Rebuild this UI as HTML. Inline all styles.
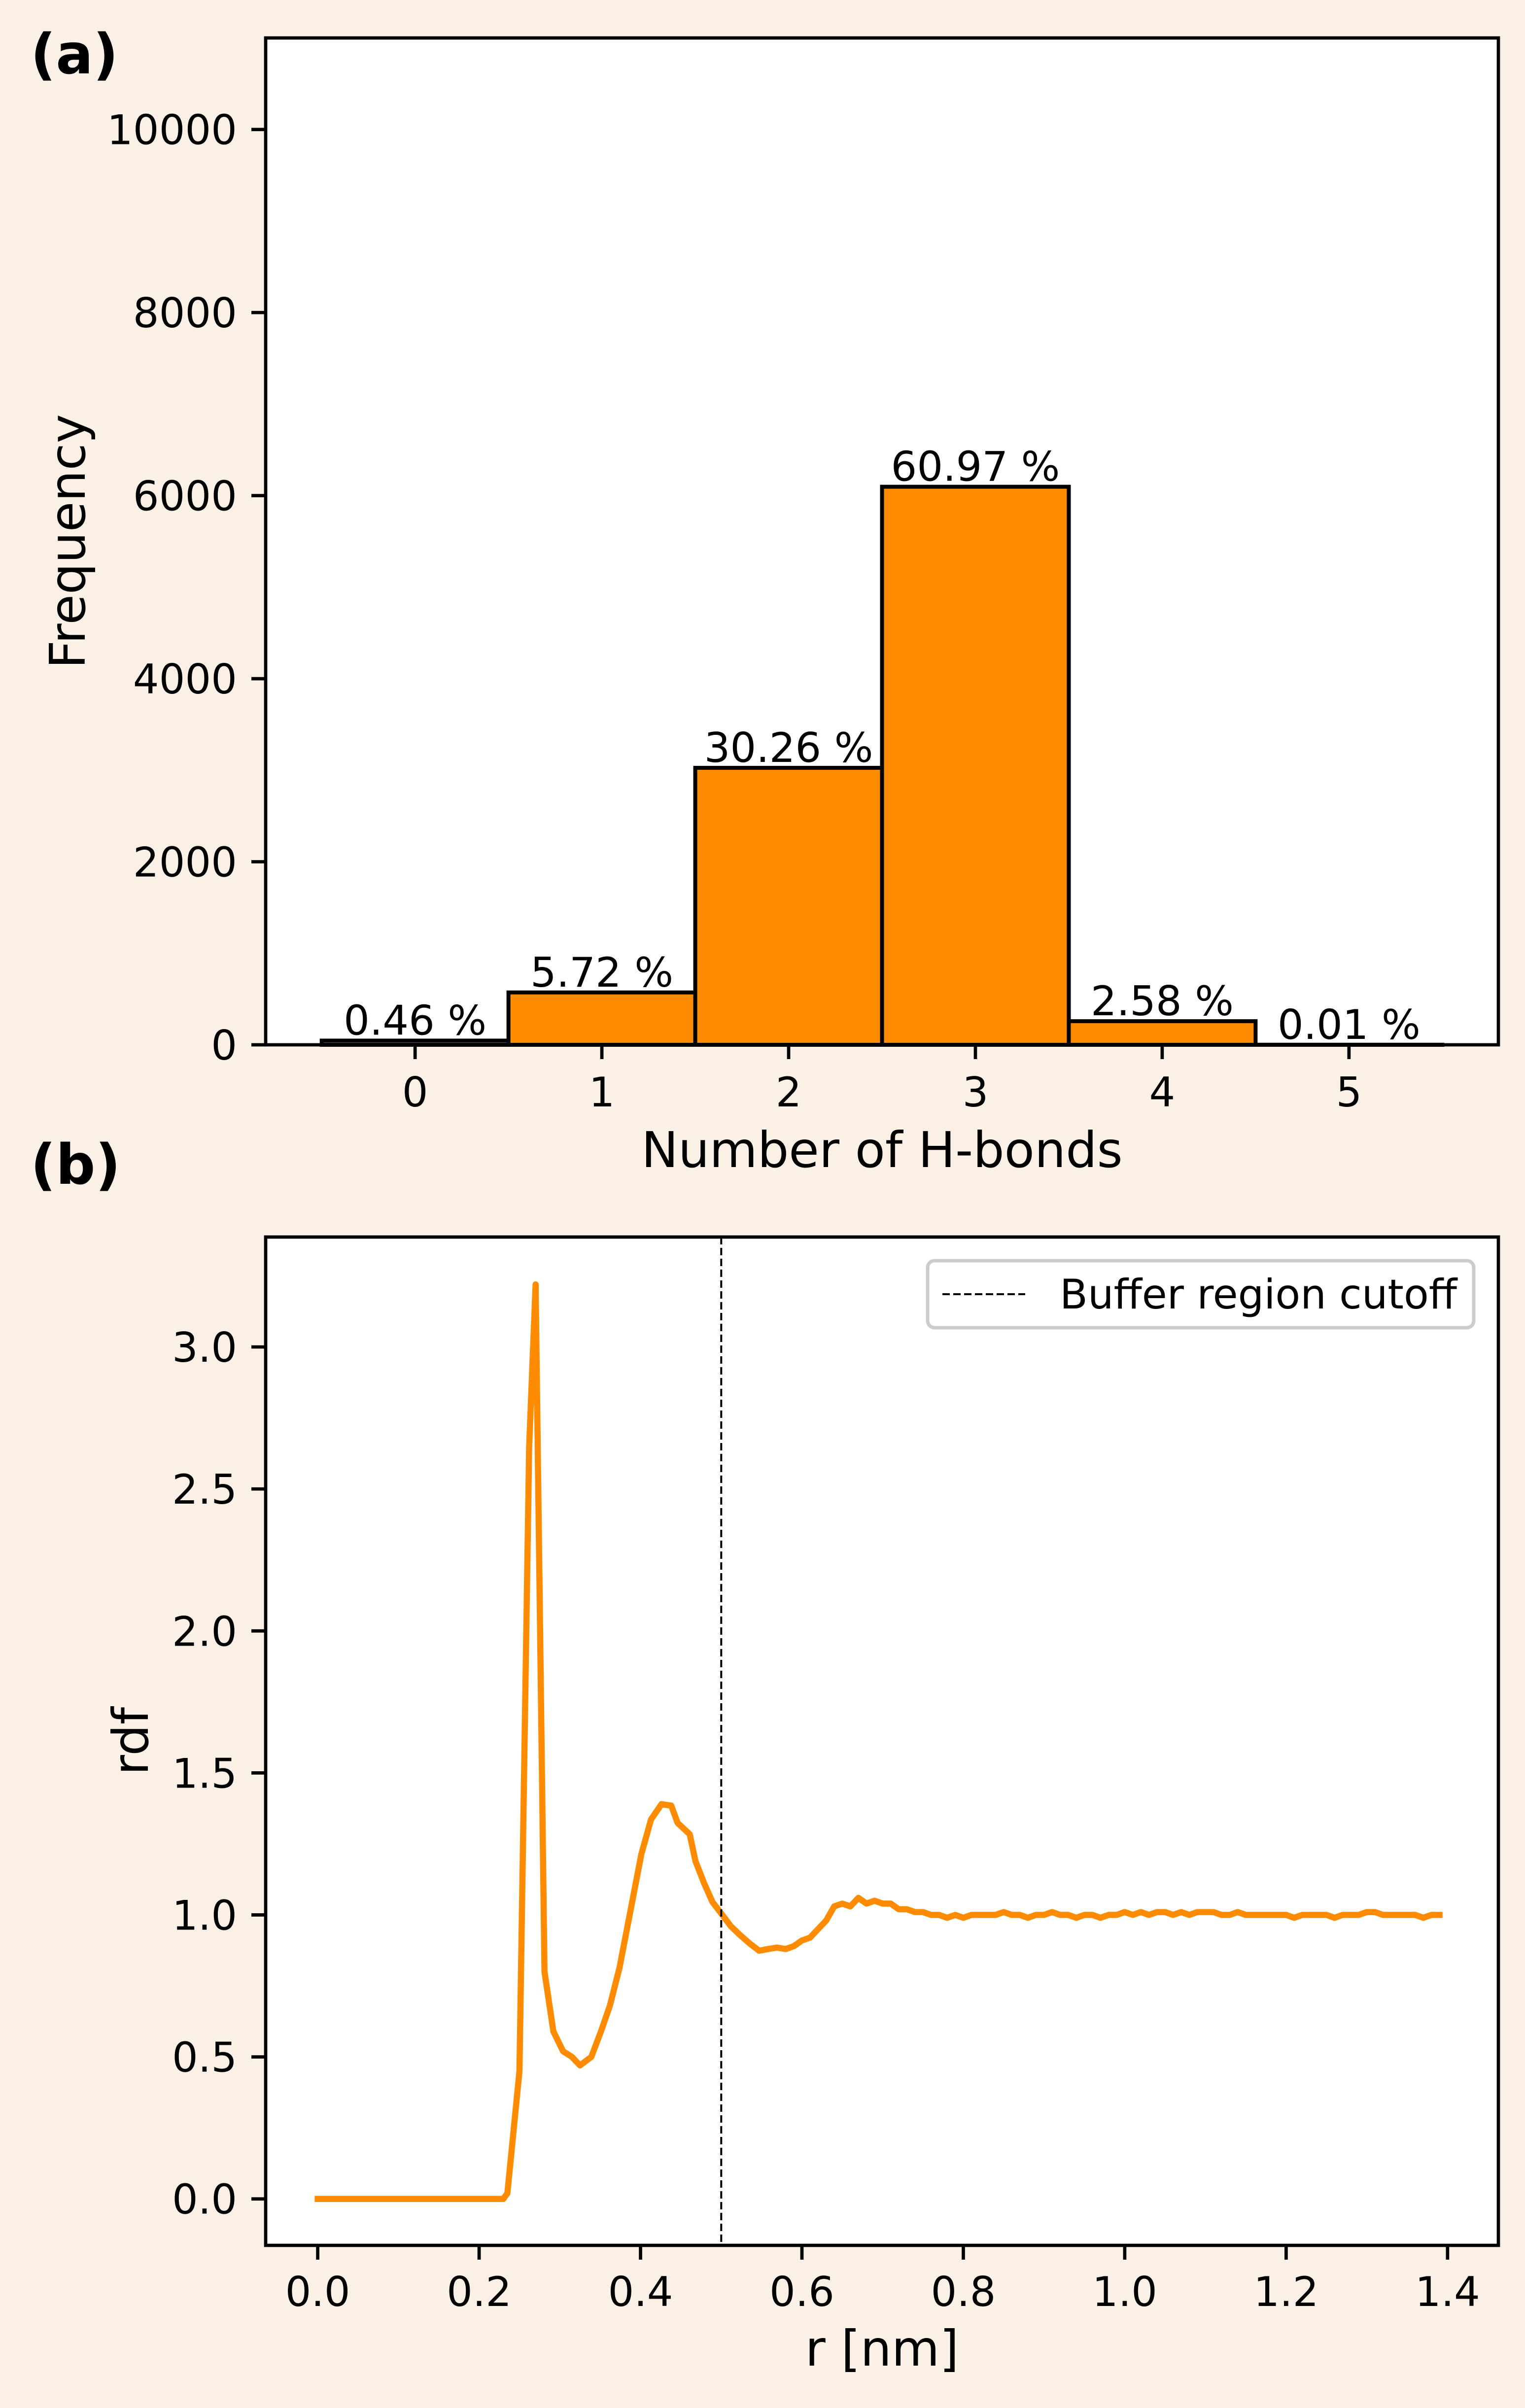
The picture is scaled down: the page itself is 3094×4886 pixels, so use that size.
<!DOCTYPE html>
<html><head><meta charset="utf-8"><style>
html,body{margin:0;padding:0;background:#faf0e6;}
svg{display:block;font-family:"DejaVu Sans","Liberation Sans",sans-serif;}
</style></head><body>
<svg id="fig" width="3094" height="4886" viewBox="0 0 3094 4886" xmlns="http://www.w3.org/2000/svg">
<rect width="3094" height="4886" fill="#faf0e6"/>
<text x="62" y="149" font-size="112" font-weight="bold">(a)</text>
<text x="62" y="2402" font-size="112" font-weight="bold">(b)</text>
<g id="pa"></g>
<g id="pb"></g>
</svg>
<script>
// Panel (a) data
const hbCategories = [0, 1, 2, 3, 4, 5];
const hbCounts = [46, 572, 3026, 6097, 258, 1];
const hbLabels = ["0.46 %", "5.72 %", "30.26 %", "60.97 %", "2.58 %", "0.01 %"];
const hbYTicks = [0, 2000, 4000, 6000, 8000, 10000];
// Panel (b) data
const rdfR = [0,0.23,0.235,0.25,0.262,0.270,0.281,0.292,0.304,0.315,0.325,0.339,0.351,0.362,0.374,0.389,0.401,0.413,0.426,0.438,0.446,0.461,0.468,0.479,0.489,0.500,0.512,0.523,0.535,0.547,0.558,0.569,
0.58,0.59,0.60,0.61,0.62,0.63,0.64,0.65,0.66,0.67,0.68,0.69,0.70,0.71,0.72,0.73,0.74,0.75,0.76,0.77,0.78,0.79,0.80,0.81,0.82,0.83,0.84,0.85,0.86,0.87,0.88,0.89,0.90,0.91,0.92,0.93,0.94,0.95,0.96,0.97,0.98,0.99,1.00,1.01,1.02,1.03,1.04,1.05,1.06,1.07,1.08,1.09,1.10,1.11,1.12,1.13,1.14,1.15,1.16,1.17,1.18,1.19,1.20,1.21,1.22,1.23,1.24,1.25,1.26,1.27,1.28,1.29,1.30,1.31,1.32,1.33,1.34,1.35,1.36,1.37,1.38,1.39];
const rdfG = [0,0,0.02,0.45,2.65,3.22,0.80,0.59,0.52,0.50,0.47,0.50,0.59,0.68,0.815,1.036,1.214,1.336,1.39,1.385,1.324,1.284,1.19,1.11,1.046,1.005,0.96,0.93,0.90,0.874,0.88,0.885,
0.88,0.89,0.91,0.92,0.95,0.98,1.03,1.04,1.03,1.06,1.04,1.05,1.04,1.04,1.02,1.02,1.01,1.01,1.00,1.00,0.99,1.00,0.99,1.00,1.00,1.00,1.00,1.01,1.00,1.00,0.99,1.00,1.00,1.01,1.00,1.00,0.99,1.00,1.00,0.99,1.00,1.00,1.01,1.00,1.01,1.00,1.01,1.01,1.00,1.01,1.00,1.01,1.01,1.01,1.00,1.00,1.01,1.00,1.00,1.00,1.00,1.00,1.00,0.99,1.00,1.00,1.00,1.00,0.99,1.00,1.00,1.00,1.01,1.01,1.00,1.00,1.00,1.00,1.00,0.99,1.00,1.00];
const rdfXTicks = [0.0,0.2,0.4,0.6,0.8,1.0,1.2,1.4];
const rdfYTicks = [0.0,0.5,1.0,1.5,2.0,2.5,3.0];
const cutoff = 0.5;

const NS="http://www.w3.org/2000/svg";
function mk(parent, tag, attrs, text){const e=document.createElementNS(NS,tag);for(const k in attrs)e.setAttribute(k,attrs[k]);if(text!==undefined)e.textContent=text;parent.appendChild(e);return e;}

// ---------- Panel a ----------
const A={l:539,r:3040,t:77,b:2120,x0:-0.8,x1:5.8,y0:0,y1:11000};
const ax=v=>A.l+(v-A.x0)/(A.x1-A.x0)*(A.r-A.l);
const ay=v=>A.b-(v-A.y0)/(A.y1-A.y0)*(A.b-A.t);
const pa=document.getElementById('pa');
let r=mk(pa,'rect',{x:A.l,y:A.t,width:A.r-A.l,height:A.b-A.t,fill:'#fff'});


hbCategories.forEach((c,i)=>{
  const x=ax(c-0.5), w=ax(c+0.5)-x, y=ay(hbCounts[i]);
  const b=mk(pa,'rect',{x:x,y:y,width:w,height:A.b-y,fill:'#ff8c00',stroke:'#000','stroke-width':8});
  
  
  const t=mk(pa,'text',{x:ax(c),y:y-12,'font-size':83,'text-anchor':'middle'},hbLabels[i]);
  
  
});
hbCategories.forEach(c=>{
  const x=ax(c);
  const tk=mk(pa,'line',{x1:x,x2:x,y1:A.b,y2:A.b+29,stroke:'#000','stroke-width':6.7});
  
  
  const t=mk(pa,'text',{x:x,y:2245,'font-size':83,'text-anchor':'middle'},String(c));
  
  
});
hbYTicks.forEach(v=>{
  const y=ay(v);
  const tk=mk(pa,'line',{x1:A.l-29,x2:A.l,y1:y,y2:y,stroke:'#000','stroke-width':6.7});
  
  
  const t=mk(pa,'text',{x:A.l-58,y:y+30,'font-size':83,'text-anchor':'end'},String(v));
  
  
});
r=mk(pa,'rect',{x:A.l,y:A.t,width:A.r-A.l,height:A.b-A.t,fill:'none',stroke:'#000','stroke-width':6.7});


let t=mk(pa,'text',{x:(A.l+A.r)/2,y:2368,'font-size':100,'text-anchor':'middle'},'Number of H-bonds');


t=mk(pa,'text',{x:0,y:0,'font-size':100,'text-anchor':'middle',transform:'translate(172,'+((A.t+A.b)/2)+') rotate(-90)'},'Frequency');



// ---------- Panel b ----------
const B={l:539,r:3040,t:2510,b:4556,x0:-0.0645,x1:1.463,y0:-0.1636,y1:3.3871};
const bx=v=>B.l+(v-B.x0)/(B.x1-B.x0)*(B.r-B.l);
const by=v=>B.b-(v-B.y0)/(B.y1-B.y0)*(B.b-B.t);
const pb=document.getElementById('pb');
r=mk(pb,'rect',{x:B.l,y:B.t,width:B.r-B.l,height:B.b-B.t,fill:'#fff'});


let d='';
rdfR.forEach((x,i)=>{d+=(i?'L':'M')+bx(x).toFixed(1)+','+by(rdfG[i]).toFixed(1);});
let p=mk(pb,'path',{d:d,fill:'none',stroke:'#ff8c00','stroke-width':12.5,'stroke-linejoin':'round','stroke-linecap':'square'});


let l=mk(pb,'line',{x1:bx(cutoff),x2:bx(cutoff),y1:B.t,y2:B.b,stroke:'#000','stroke-width':4,'stroke-dasharray':'15,7'});


rdfXTicks.forEach(v=>{
  const x=bx(v);
  const tk=mk(pb,'line',{x1:x,x2:x,y1:B.b,y2:B.b+29,stroke:'#000','stroke-width':6.7});
  
  
  const tt=mk(pb,'text',{x:x,y:4679,'font-size':83,'text-anchor':'middle'},v.toFixed(1));
  
  
});
rdfYTicks.forEach(v=>{
  const y=by(v);
  const tk=mk(pb,'line',{x1:B.l-29,x2:B.l,y1:y,y2:y,stroke:'#000','stroke-width':6.7});
  
  
  const tt=mk(pb,'text',{x:B.l-58,y:y+30,'font-size':83,'text-anchor':'end'},v.toFixed(1));
  
  
});
r=mk(pb,'rect',{x:B.l,y:B.t,width:B.r-B.l,height:B.b-B.t,fill:'none',stroke:'#000','stroke-width':6.7});


// legend
const lg=mk(pb,'g',{});


r=mk(lg,'rect',{x:1882,y:2558,width:1108,height:136,rx:14,fill:'#fff','fill-opacity':0.8,stroke:'#cccccc','stroke-width':7});


l=mk(lg,'line',{x1:1912,x2:2080,y1:2626,y2:2626,stroke:'#000','stroke-width':4,'stroke-dasharray':'15,7'});


t=mk(lg,'text',{x:2150,y:2655,'font-size':83},'Buffer region cutoff');


t=mk(pb,'text',{x:(B.l+B.r)/2,y:4800,'font-size':100,'text-anchor':'middle'},'r [nm]');


t=mk(pb,'text',{x:0,y:0,'font-size':100,'text-anchor':'middle',transform:'translate(300,'+((B.t+B.b)/2)+') rotate(-90)'},'rdf');


</script>
</body></html>
